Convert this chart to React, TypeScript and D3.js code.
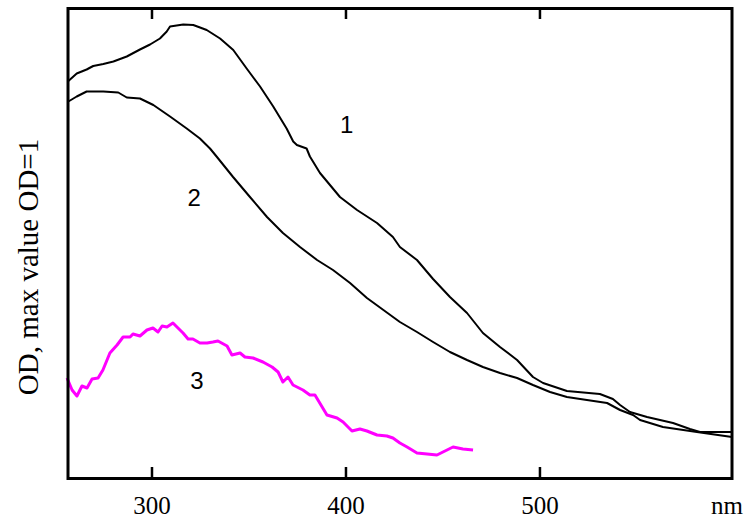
import React from "react";
import * as d3 from "d3";

// wavelength (nm), OD (normalised)
const curve1X = [256.9, 261.2, 266.3, 269.7, 274.9, 280.1, 287.0, 293.8, 299.0, 304.1, 307.6, 309.3, 316.1, 321.3, 328.2, 335.1, 341.9, 348.8, 355.7, 362.5, 369.4, 372.8, 374.7, 379.7, 381.4, 386.6, 396.9, 405.7, 416.0, 424.2, 427.8, 436.6, 444.9, 453.6, 462.4, 470.6, 479.4, 488.2, 496.4, 501.6, 513.9, 530.9, 537.6, 541.3, 546.4, 555.2, 568.6, 577.3, 582.5, 599.0];
const curve1Y = [0.888, 0.903, 0.911, 0.918, 0.922, 0.927, 0.937, 0.951, 0.961, 0.973, 0.987, 0.997, 1.001, 1.000, 0.990, 0.973, 0.950, 0.913, 0.877, 0.837, 0.793, 0.767, 0.760, 0.753, 0.737, 0.704, 0.656, 0.630, 0.604, 0.576, 0.556, 0.530, 0.492, 0.456, 0.424, 0.384, 0.356, 0.330, 0.296, 0.284, 0.268, 0.262, 0.252, 0.240, 0.226, 0.216, 0.204, 0.192, 0.186, 0.186];

const curve2X = [256.9, 261.2, 266.3, 274.9, 282.6, 287.0, 293.8, 300.7, 309.3, 317.9, 324.7, 329.9, 333.5, 341.8, 350.5, 359.3, 367.5, 376.3, 385.1, 393.3, 402.1, 410.8, 427.8, 436.6, 444.9, 453.6, 462.4, 470.6, 479.4, 488.2, 496.4, 505.2, 513.9, 524.2, 534.6, 541.3, 548.0, 551.6, 563.4, 580.9, 599.0];
const curve2Y = [0.847, 0.857, 0.867, 0.867, 0.865, 0.855, 0.853, 0.840, 0.817, 0.793, 0.773, 0.753, 0.736, 0.696, 0.656, 0.616, 0.584, 0.556, 0.530, 0.510, 0.484, 0.454, 0.406, 0.386, 0.366, 0.346, 0.330, 0.316, 0.304, 0.294, 0.280, 0.266, 0.256, 0.250, 0.244, 0.230, 0.220, 0.210, 0.196, 0.186, 0.176];

const curve3X = [256.2, 258.8, 261.3, 263.9, 266.5, 269.1, 272.2, 274.7, 278.3, 282.0, 285.1, 288.7, 290.2, 293.8, 297.4, 300.5, 303.1, 305.2, 307.7, 310.8, 313.4, 316.0, 318.6, 321.1, 324.7, 328.4, 331.4, 334.0, 338.7, 341.2, 345.4, 347.9, 352.1, 357.2, 361.9, 365.0, 367.5, 370.1, 372.7, 377.8, 381.4, 384.0, 390.2, 395.4, 398.5, 403.1, 407.2, 410.8, 416.0, 421.1, 424.2, 427.8, 431.5, 436.6, 441.8, 446.9, 450.0, 455.2, 460.3, 465.5];
const curve3Y = [0.294, 0.270, 0.258, 0.278, 0.274, 0.292, 0.294, 0.310, 0.344, 0.360, 0.376, 0.376, 0.382, 0.378, 0.390, 0.394, 0.386, 0.398, 0.396, 0.404, 0.394, 0.384, 0.372, 0.372, 0.364, 0.364, 0.366, 0.368, 0.358, 0.340, 0.344, 0.336, 0.334, 0.326, 0.316, 0.306, 0.286, 0.296, 0.280, 0.270, 0.260, 0.260, 0.220, 0.214, 0.206, 0.188, 0.192, 0.188, 0.180, 0.178, 0.174, 0.164, 0.156, 0.144, 0.142, 0.140, 0.146, 0.156, 0.152, 0.150];

const xTicks = [300, 400, 500];
const xTickLabels = ["300", "400", "500"];
const curveLabels = ["1", "2", "3"];
const curveLabelX = [400.3, 321.7, 323.2];
const curveLabelY = [0.784, 0.638, 0.272];
const xUnit = "nm";
const yTitle = "OD, max value OD=1";

const W = 745;
const H = 519;
const M = { left: 68, right: 732, top: 8, bottom: 478 };

export default function App() {
  const x = d3.scaleLinear().domain([256.7, 599]).range([M.left, M.right]);
  const y = d3.scaleLinear().domain([0.094, 1.034]).range([M.bottom, M.top]);

  const mk = (xs: number[], ys: number[]) =>
    d3
      .line<number>()
      .x((_, i) => x(xs[i]))
      .y((d) => y(d))(ys) || "";

  const series = [
    { xs: curve1X, ys: curve1Y, color: "#000", w: 2 },
    { xs: curve2X, ys: curve2Y, color: "#000", w: 2 },
    { xs: curve3X, ys: curve3Y, color: "#ff00ff", w: 3 },
  ];

  return (
    <svg
      width={W}
      height={H}
      style={{ position: "absolute", left: 0, top: 0, background: "#fff" }}
    >
      {series.map((s, i) => (
        <path
          key={i}
          d={mk(s.xs, s.ys)}
          fill="none"
          stroke={s.color}
          strokeWidth={s.w}
          strokeLinejoin="round"
        />
      ))}
      <rect
        x={M.left}
        y={M.top + 0.5}
        width={M.right - M.left}
        height={M.bottom - M.top}
        fill="none"
        stroke="#000"
        strokeWidth={3}
      />
      {xTicks.map((t, i) => (
        <g key={t}>
          <line x1={x(t)} x2={x(t)} y1={M.top} y2={M.top + 11} stroke="#000" strokeWidth={2.5} />
          <line x1={x(t)} x2={x(t)} y1={M.bottom} y2={M.bottom - 11} stroke="#000" strokeWidth={2.5} />
          <text
            x={x(t)}
            y={514}
            textAnchor="middle"
            fontFamily="'Liberation Serif', 'Times New Roman', serif"
            fontSize={25}
            fill="#000"
          >
            {xTickLabels[i]}
          </text>
        </g>
      ))}
      <text
        x={743}
        y={514}
        textAnchor="end"
        fontFamily="'Liberation Serif', 'Times New Roman', serif"
        fontSize={25}
        fill="#000"
      >
        {xUnit}
      </text>
      <text
        transform={`translate(38, 267) rotate(-90)`}
        textAnchor="middle"
        fontFamily="'Liberation Serif', 'Times New Roman', serif"
        fontSize={29}
        fill="#000"
      >
        {yTitle}
      </text>
      {curveLabels.map((l, i) => (
        <text
          key={l}
          x={x(curveLabelX[i])}
          y={y(curveLabelY[i])}
          textAnchor="middle"
          fontFamily="'Liberation Sans', Arial, sans-serif"
          fontSize={24}
          fill="#000"
        >
          {l}
        </text>
      ))}
    </svg>
  );
}
